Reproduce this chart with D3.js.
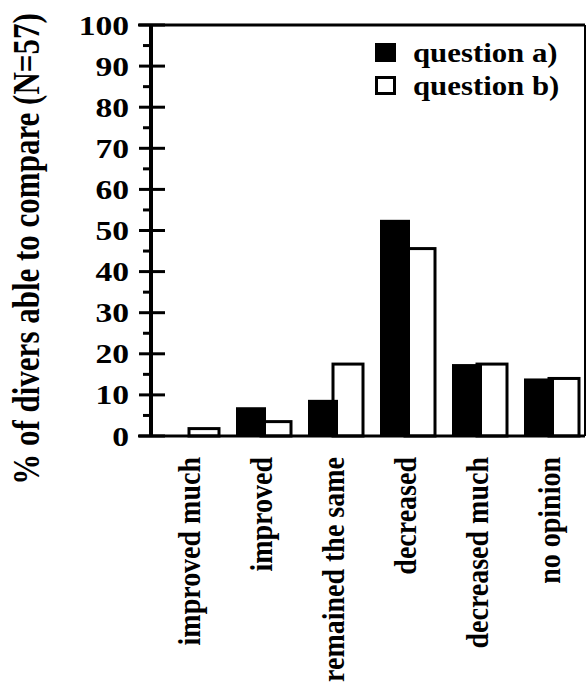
<!DOCTYPE html>
<html><head><meta charset="utf-8">
<script src="https://cdn.jsdelivr.net/npm/d3@7"></script>
<style>body{margin:0;background:#fff}svg{display:block}
text{font-family:"Liberation Serif","Times New Roman",Times,serif;font-weight:bold}</style>
</head><body>
<script>
const categories = ["improved much","improved","remained the same","decreased","decreased much","no opinion"];
const questionA = [0, 7.0, 8.8, 52.6, 17.5, 14.0];
const questionB = [1.8, 3.5, 17.5, 45.6, 17.5, 14.0];
const seriesNames = ["question a)","question b)"];
const yTicks = [0,10,20,30,40,50,60,70,80,90,100];
const yTitle = "% of divers able to compare (N=57)";

const W = 586, H = 683;
const svg = d3.select("body").append("svg").attr("width", W).attr("height", H);

const x0 = 151, xr = 585, yTop = 25, yBase = 436;
const x = d3.scaleBand().domain(categories).range([148, 148 + 72 * 6]).paddingInner(0).paddingOuter(0);
const y = d3.scaleLinear().domain([0, 100]).range([yBase, yTop]);

const barW = 30, offA = 16, offB = 41;

// frame top and right
svg.append("line").attr("x1", 138).attr("x2", xr).attr("y1", y(100)).attr("y2", y(100))
  .attr("stroke", "#000").attr("stroke-width", 3);
svg.append("line").attr("x1", xr).attr("x2", xr).attr("y1", y(100)).attr("y2", yBase)
  .attr("stroke", "#000").attr("stroke-width", 2);

// bars: b first (white, outlined), then a on top (black)
const g = svg.append("g");
g.selectAll("rect.b").data(categories).join("rect").attr("class", "b")
  .attr("x", d => x(d) + offB).attr("width", barW)
  .attr("y", (d, i) => y(questionB[i])).attr("height", (d, i) => yBase - y(questionB[i]))
  .attr("fill", "#fff").attr("stroke", "#000").attr("stroke-width", 3);
g.selectAll("rect.a").data(categories).join("rect").attr("class", "a")
  .attr("x", d => x(d) + offA).attr("width", barW)
  .attr("y", (d, i) => y(questionA[i])).attr("height", (d, i) => yBase - y(questionA[i]))
  .attr("fill", "#000").attr("stroke", "none")
  .style("display", (d, i) => questionA[i] > 0 ? null : "none");

// baseline
svg.append("line").attr("x1", 138).attr("x2", xr).attr("y1", yBase).attr("y2", yBase)
  .attr("stroke", "#000").attr("stroke-width", 3);

// y axis line
svg.append("line").attr("x1", x0).attr("x2", x0).attr("y1", y(100)).attr("y2", yBase)
  .attr("stroke", "#000").attr("stroke-width", 4);

// major ticks (crossing) and minor ticks
const minors = d3.range(5, 100, 10);
svg.append("g").selectAll("line").data(yTicks).join("line")
  .attr("x1", 139).attr("x2", 165).attr("y1", d => y(d)).attr("y2", d => y(d))
  .attr("stroke", "#000").attr("stroke-width", 3);
svg.append("g").selectAll("line").data(minors).join("line")
  .attr("x1", 143).attr("x2", x0).attr("y1", d => y(d)).attr("y2", d => y(d))
  .attr("stroke", "#000").attr("stroke-width", 3);

// tick labels
svg.append("g").selectAll("text").data(yTicks).join("text")
  .attr("transform", d => `translate(129,${y(d)}) scale(1.2,1)`)
  .attr("text-anchor", "end").attr("dy", "0.34em")
  .attr("font-size", 28)
  .text(d => d);

// y title
svg.append("text")
  .attr("transform", `translate(39,249) scale(1.2,1) rotate(-90)`)
  .attr("text-anchor", "middle")
  .attr("font-size", 31)
  .text(yTitle);

// category labels
svg.append("g").selectAll("text").data(categories).join("text")
  .attr("transform", d => `translate(${x(d) + 52},457) scale(1.14,1) rotate(-90)`)
  .attr("text-anchor", "end")
  .attr("font-size", 28)
  .text(d => d);

// legend
const leg = svg.append("g");
const legY = [43, 76];
leg.selectAll("rect").data(seriesNames).join("rect")
  .attr("x", (d, i) => i === 0 ? 375 : 376.5).attr("y", (d, i) => legY[i] + (i === 0 ? 0 : 1.5))
  .attr("width", (d, i) => i === 0 ? 21 : 18).attr("height", (d, i) => i === 0 ? 19 : 16)
  .attr("fill", (d, i) => i === 0 ? "#000" : "#fff")
  .attr("stroke", "#000").attr("stroke-width", (d, i) => i === 0 ? 0 : 3);
leg.selectAll("text").data(seriesNames).join("text")
  .attr("transform", (d, i) => `translate(413,${legY[i] + 19}) scale(1.1,1)`)
  .attr("font-size", 28)
  .text(d => d);
</script>
</body></html>
